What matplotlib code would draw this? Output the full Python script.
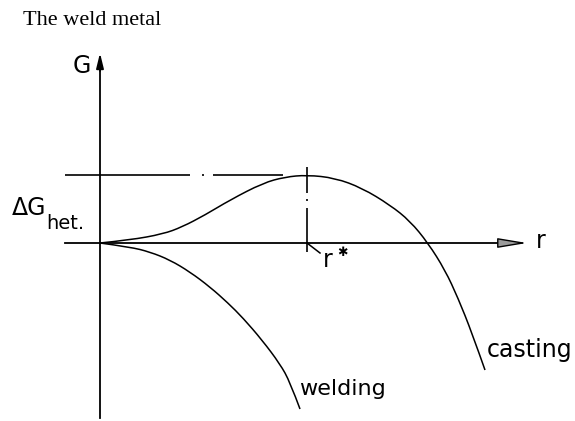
import numpy as np
import matplotlib
matplotlib.use("Agg")
import matplotlib.pyplot as plt
from matplotlib.path import Path
from matplotlib.patches import PathPatch

plt.rcParams['lines.scale_dashes'] = False

# free energy curves, r along x, G upward (arbitrary units, origin at the axis cross)
casting_r = [0, 30, 63, 82, 105, 130, 163, 185, 207, 235, 262, 290, 310, 328, 345, 358, 372, 385]
casting_G = [0, 3, 9, 16, 28, 43, 60, 66, 68, 65, 55, 38, 22, 0, -27, -55, -90, -127]

welding_r = [0, 30, 50, 70, 90, 110, 128, 143, 162, 180, 190, 200]
welding_G = [0, -4, -9, -17, -29, -44, -60, -75, -97, -121, -139, -166]

r_star = 207
dG_het = 68

LW = 1.1
PX = 0.72  # points per pixel at dpi 100


def smooth_curve(ax, xs, ys, **kw):
    # quadratic bezier chain: listed points are control points,
    # midpoints between them are the on-curve anchors
    pts = np.column_stack([xs, ys]).astype(float)
    verts = [pts[0]]
    codes = [Path.MOVETO]
    for i in range(1, len(pts) - 1):
        mid = (pts[i] + pts[i + 1]) / 2 if i < len(pts) - 2 else pts[i + 1]
        verts += [pts[i], mid]
        codes += [Path.CURVE3, Path.CURVE3]
    ax.add_patch(PathPatch(Path(verts, codes), fill=False, **kw))


fig = plt.figure(figsize=(5.75, 4.21), dpi=100)
ax = fig.add_axes([0, 0, 1, 1])
ax.set_xlim(-100, 475)
ax.set_ylim(-178, 243)
ax.axis('off')

# axes with arrow heads
ax.plot([0, 0], [-175, 180], color='k', lw=1.3)
ax.annotate('', xy=(0, 190), xytext=(0, 172),
            arrowprops=dict(arrowstyle='-|>,head_length=0.9,head_width=0.22',
                            color='k', lw=1.3, shrinkA=0, shrinkB=0))
ax.plot([-35, 405], [0, 0], color='k', lw=1.3)
ax.annotate('', xy=(427, 0), xytext=(400, 0),
            arrowprops=dict(arrowstyle='-|>,head_length=1.8,head_width=0.3',
                            fc='#9a9a9a', ec='k', lw=1.0, shrinkA=0, shrinkB=0))

# the two curves
smooth_curve(ax, casting_r, casting_G, color='k', lw=LW)
smooth_curve(ax, welding_r, welding_G, color='k', lw=LW)

# dash-dot guides for the barrier height and critical radius
ax.plot([-35, 183], [dG_het, dG_het], color='k', lw=1.2,
        linestyle=(0, (125 * PX, 12 * PX, 2 * PX, 9 * PX, 80 * PX, 10 * PX)))
ax.plot([r_star, r_star], [76, -9], color='k', lw=1.2,
        linestyle=(0, (26 * PX, 6 * PX, 2 * PX, 7 * PX, 50 * PX, 5 * PX)))
ax.plot([r_star, r_star + 13], [0, -10], color='k', lw=1.1)

font = 'DejaVu Sans'
ax.text(-77, 218, 'The weld metal', family='Liberation Serif', fontsize=16,
        ha='left', va='baseline')
ax.text(-18, 177, 'G', family=font, fontsize=17, ha='center', va='center')
ax.text(436, -5, 'r', family=font, fontsize=17, ha='left', va='baseline')
ax.text(-88, 28, '\u0394G', family=font, fontsize=17, ha='left', va='baseline')
ax.text(-54, 14, 'het.', family=font, fontsize=14, ha='left', va='baseline')
ax.text(223, -24, 'r', family=font, fontsize=17, ha='left', va='baseline')
ax.text(242, -10, '\u2731', family=font, fontsize=9, ha='center', va='center')
ax.text(387, -114, 'casting', family=font, fontsize=17, ha='left', va='baseline')
ax.text(199, -152, 'welding', family=font, fontsize=16, ha='left', va='baseline')

fig.savefig('out.png', dpi=100)
